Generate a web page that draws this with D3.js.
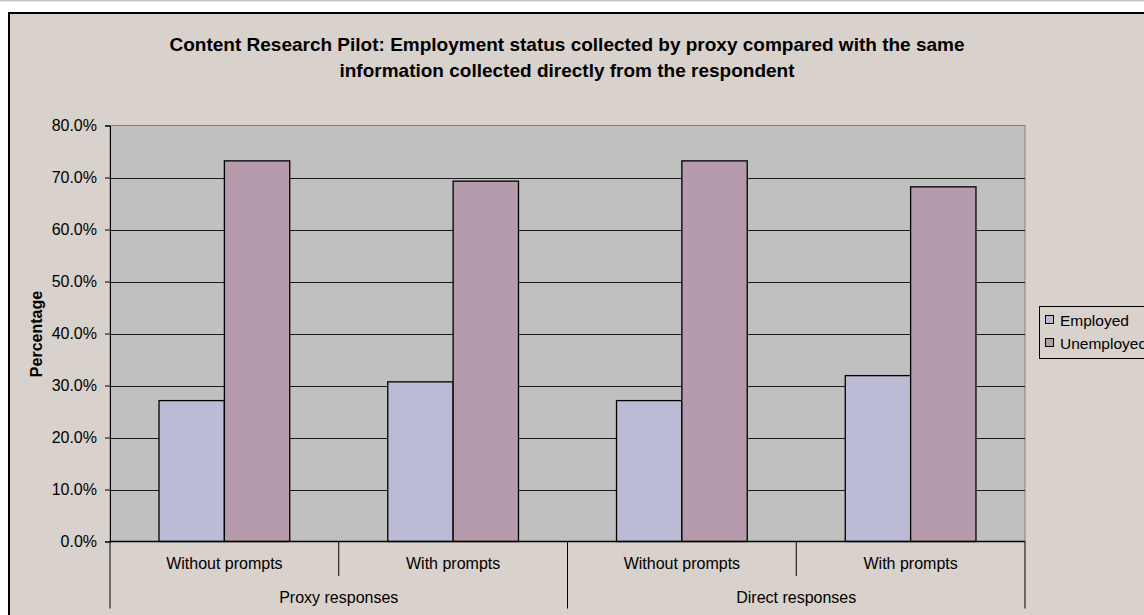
<!DOCTYPE html>
<html>
<head>
<meta charset="utf-8">
<script src="https://cdn.jsdelivr.net/npm/d3@7"></script>
<style>
  html, body { margin: 0; padding: 0; background: #ffffff; }
  svg { display: block; font-family: Arial, "Liberation Sans", sans-serif; }
</style>
</head>
<body>
<svg id="chart" width="1144" height="615"></svg>
<script>
// Data
const categories = ["Without prompts", "With prompts", "Without prompts", "With prompts"];
const groups = ["Proxy responses", "Direct responses"];
const seriesNames = ["Employed", "Unemployed"];
const employed = [0.271, 0.307, 0.271, 0.319];
const unemployed = [0.732, 0.693, 0.732, 0.682];
const yTicks = [0, 0.1, 0.2, 0.3, 0.4, 0.5, 0.6, 0.7, 0.8];
const titleLines = [
  "Content Research Pilot: Employment status collected by proxy compared with the same",
  "information collected directly from the respondent"
];

const colors = { Employed: "#bbbbd6", Unemployed: "#b59bab" };
const chartBg = "#d9d1cb";
const plotBg = "#c0c0c0";

const svg = d3.select("#chart");

// page rule and chart frame
svg.append("line").attr("x1", 0).attr("x2", 1144).attr("y1", 0.5).attr("y2", 0.5)
  .attr("stroke", "#c4c4c4").attr("stroke-width", 2);
svg.append("rect").attr("x", 9).attr("y", 13).attr("width", 1200).attr("height", 700)
  .attr("fill", chartBg).attr("stroke", "#000").attr("stroke-width", 2);

const plot = { left: 110, right: 1025, top: 125.5, bottom: 541.5 };

const y = d3.scaleLinear().domain([0, 0.8]).range([plot.bottom, plot.top]);
const x = d3.scaleBand().domain(d3.range(categories.length)).range([plot.left, plot.right]).padding(0);
const barW = x.bandwidth() / 3.5;
const xs = d3.scaleBand().domain(seriesNames).range([0, barW * 2]);

// plot area
svg.append("rect").attr("x", plot.left).attr("y", plot.top)
  .attr("width", plot.right - plot.left).attr("height", plot.bottom - plot.top)
  .attr("fill", plotBg).attr("stroke", "#808080").attr("stroke-width", 1);

// gridlines
svg.append("g").selectAll("line").data(yTicks.filter(t => t > 0 && t < 0.8)).join("line")
  .attr("x1", plot.left).attr("x2", plot.right)
  .attr("y1", d => Math.round(y(d)) + 0.5).attr("y2", d => Math.round(y(d)) + 0.5)
  .attr("stroke", "#1a1a1a").attr("stroke-width", 1);

// y axis
const yAxis = d3.axisLeft(y).tickValues(yTicks).tickFormat(d3.format(".1%")).tickSize(5).tickPadding(8);
const yg = svg.append("g").attr("transform", `translate(${plot.left},0)`).call(yAxis);
yg.select(".domain").attr("stroke", "#000");
yg.selectAll(".tick line").attr("stroke", "#000");
yg.selectAll(".tick text").attr("font-size", 16).attr("fill", "#000")
  .attr("font-family", "Arial, 'Liberation Sans', sans-serif");

// bars
const rows = categories.map((c, i) => ({ i, Employed: employed[i], Unemployed: unemployed[i] }));
const bg = svg.append("g").selectAll("g").data(rows).join("g")
  .attr("transform", d => `translate(${x(d.i) + (x.bandwidth() - barW * 2) / 2},0)`);
bg.selectAll("rect").data(d => seriesNames.map(s => ({ s, v: d[s] }))).join("rect")
  .attr("x", d => xs(d.s)).attr("width", xs.bandwidth())
  .attr("y", d => y(d.v)).attr("height", d => y(0) - y(d.v))
  .attr("fill", d => colors[d.s]).attr("stroke", "#000").attr("stroke-width", 1.3);

// x axis baseline
svg.append("line").attr("x1", plot.left).attr("x2", plot.right)
  .attr("y1", plot.bottom).attr("y2", plot.bottom).attr("stroke", "#000").attr("stroke-width", 1.3);

// category dividers
const dividers = d3.range(categories.length + 1).map(i => ({
  x: i < categories.length ? x(i) : plot.right,
  long: i % 2 === 0
}));
svg.append("g").selectAll("line").data(dividers).join("line")
  .attr("x1", d => d.x).attr("x2", d => d.x)
  .attr("y1", plot.bottom).attr("y2", d => d.long ? 608.5 : 576)
  .attr("stroke", "#000").attr("stroke-width", 1);

// category labels
svg.append("g").selectAll("text").data(categories).join("text")
  .attr("x", (d, i) => x(i) + x.bandwidth() / 2).attr("y", 569)
  .attr("text-anchor", "middle").attr("font-size", 16).attr("fill", "#000")
  .text(d => d);

// group labels
svg.append("g").selectAll("text").data(groups).join("text")
  .attr("x", (d, i) => (x(i * 2) + x(i * 2) + x.bandwidth() * 2) / 2).attr("y", 603)
  .attr("text-anchor", "middle").attr("font-size", 16).attr("fill", "#000")
  .text(d => d);

// y axis title
svg.append("text").attr("transform", "translate(42,334) rotate(-90)")
  .attr("text-anchor", "middle").attr("font-size", 16).attr("font-weight", "bold")
  .text("Percentage");

// chart title
svg.append("g").selectAll("text").data(titleLines).join("text")
  .attr("x", 567).attr("y", (d, i) => 51 + i * 26)
  .attr("text-anchor", "middle").attr("font-size", 19).attr("font-weight", "bold")
  .text(d => d);

// legend
const lg = svg.append("g");
lg.append("rect").attr("x", 1039.5).attr("y", 306.5).attr("width", 150).attr("height", 52)
  .attr("fill", chartBg).attr("stroke", "#000").attr("stroke-width", 1);
const le = lg.selectAll("g").data(seriesNames).join("g")
  .attr("transform", (d, i) => `translate(1045,${320 + i * 23})`);
le.append("rect").attr("x", 0.5).attr("y", -4.5).attr("width", 8).attr("height", 8)
  .attr("fill", d => colors[d]).attr("stroke", "#000").attr("stroke-width", 1);
le.append("text").attr("x", 15).attr("y", 5.5).attr("font-size", 15.5).text(d => d);
</script>
</body>
</html>
